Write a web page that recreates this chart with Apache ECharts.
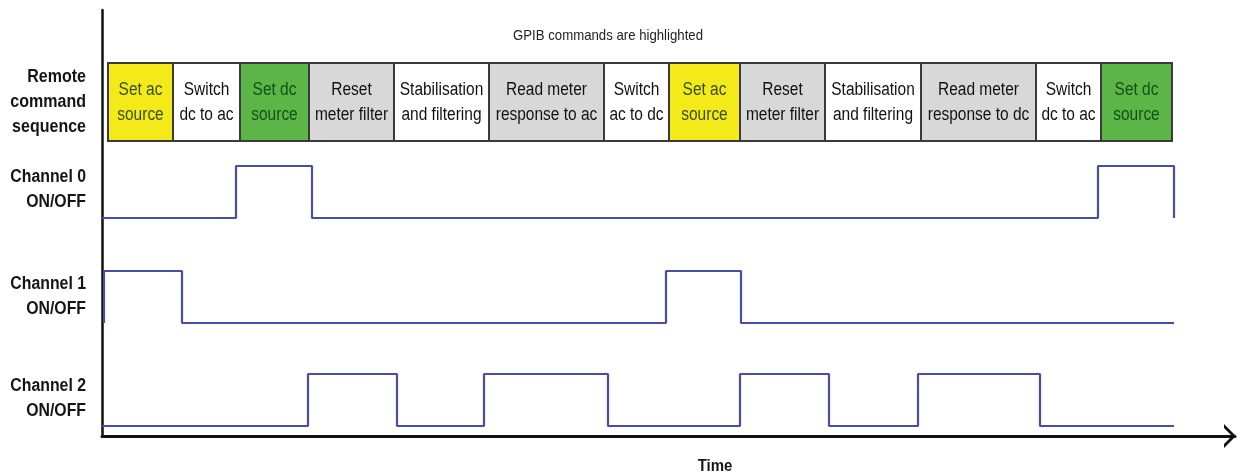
<!DOCTYPE html>
<html><head><meta charset="utf-8">
<script src="https://cdn.jsdelivr.net/npm/echarts@6/dist/echarts.min.js"></script>
<style>html,body{margin:0;padding:0;background:#fff}#c{width:1237px;height:474px}</style>
</head><body><div id="c"></div>
<script>
// Command sequence (time boundaries in arbitrary time units)
const commandLabels = ['Set ac\nsource','Switch\ndc to ac','Set dc\nsource','Reset\nmeter filter','Stabilisation\nand filtering','Read meter\nresponse to ac','Switch\nac to dc','Set ac\nsource','Reset\nmeter filter','Stabilisation\nand filtering','Read meter\nresponse to dc','Switch\ndc to ac','Set dc\nsource'];
const commandKinds = ['ac','pc','dc','meter','pc','meter','pc','ac','meter','pc','meter','pc','dc'];
const commandBounds = [0.6, 7.1, 13.8, 20.7, 29.2, 38.7, 50.2, 56.7, 63.8, 72.3, 81.9, 93.4, 99.9, 107.0];

// Channel states: [time, state] with 0 = OFF, 1 = ON
const channel0 = [[0,0],[13.4,1],[21.0,0],[99.6,1],[107.2,0]];
const channel1 = [[0.2,0],[0.2,1],[8.0,0],[56.4,1],[63.9,0],[107.2,0]];
const channel2 = [[0,0],[20.6,1],[29.5,0],[38.2,1],[50.6,0],[63.8,1],[72.7,0],[81.6,1],[93.8,0],[107.2,0]];
const channelNames = ['Channel 0\nON/OFF','Channel 1\nON/OFF','Channel 2\nON/OFF'];

// layout (value space)
const X_MAX = 113.3, Y_MAX = 42.6;
const channelBase = [21.8, 11.3, 1.0];
const channelAmp = 5.2;
const boxTop = 37.3, boxBottom = 29.5;

const fills = {ac:'#F4E919', dc:'#5BB547', meter:'#D8D8D8', pc:'#FFFFFF'};
const textColors = {ac:'#34500F', dc:'#174E17', meter:'#111', pc:'#111'};

const boxData = commandLabels.map((l,i)=>[commandBounds[i], commandBounds[i+1], i]);

const chart = echarts.init(document.getElementById('c'));
const lineColor = '#4A4DA6';
const series = [channel0, channel1, channel2].map((ch, k) => ({
  type:'line', step:'end', symbol:'none', silent:true,
  data: ch.map(d => [d[0], channelBase[k] + d[1]*channelAmp]),
  lineStyle:{color:lineColor, width:2.2}
}));
series.push({
  type:'custom', silent:true,
  data: boxData,
  renderItem: function(params, api){
    const i = api.value(2);
    const p0 = api.coord([api.value(0), boxTop]);
    const p1 = api.coord([api.value(1), boxBottom]);
    const kind = commandKinds[i];
    return {type:'group', children:[
      {type:'rect', shape:{x:p0[0], y:p0[1], width:p1[0]-p0[0], height:p1[1]-p0[1]},
       style:{fill:fills[kind], stroke:'#3a3a3a', lineWidth:2}},
      {type:'text', x:(p0[0]+p1[0])/2, y:(p0[1]+p1[1])/2 + 1, scaleX:0.86,
        style:{text:commandLabels[i], x:0, y:0,
        align:'center', verticalAlign:'middle', fill:textColors[kind],
        font:'18px "Liberation Sans", Arial, sans-serif', lineHeight:25}}
    ]};
  }
});

const labelFont = 'bold 18px "Liberation Sans", Arial, sans-serif';
const graphics = [
  {type:'text', x:86, y:102, scaleX:0.89, style:{text:'Remote\ncommand\nsequence', x:0, y:0, align:'right', verticalAlign:'middle', font:labelFont, lineHeight:25, fill:'#151515'}},
  {type:'text', x:608, y:36, scaleX:0.88, style:{text:'GPIB commands are highlighted', x:0, y:0, align:'center', verticalAlign:'middle', font:'15px "Liberation Sans", Arial, sans-serif', fill:'#222'}},
  {type:'text', x:715, y:466, scaleX:0.88, style:{text:'Time', x:0, y:0, align:'center', verticalAlign:'middle', font:'bold 17px "Liberation Sans", Arial, sans-serif', fill:'#151515'}}
];
const labelY = [190, 297, 399];
channelNames.forEach((n,k)=>graphics.push({type:'text', x:86, y:labelY[k], scaleX:0.88, style:{text:n, x:0, y:0, align:'right', verticalAlign:'middle', font:labelFont, lineHeight:25, fill:'#151515'}}));

chart.setOption({
  animation:false,
  grid:{left:102, right:2, top:10, bottom:38},
  xAxis:{type:'value', min:0, max:X_MAX,
    axisLine:{show:true, lineStyle:{color:'#111', width:3}, symbol:['none','path://M0,12 L12,0 L24,12 L20,12 L12,4 L4,12 Z'], symbolSize:[24,12], symbolOffset:[0,-5]},
    axisTick:{show:false}, axisLabel:{show:false}, splitLine:{show:false}},
  yAxis:{type:'value', min:0, max:Y_MAX,
    axisLine:{show:true, lineStyle:{color:'#111', width:2.5}},
    axisTick:{show:false}, axisLabel:{show:false}, splitLine:{show:false}},
  series: series,
  graphic: graphics
});
</script></body></html>
